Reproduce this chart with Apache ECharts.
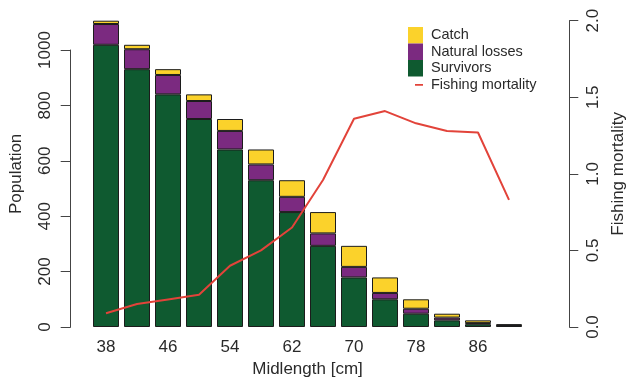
<!DOCTYPE html>
<html>
<head>
<meta charset="utf-8">
<script src="https://cdn.jsdelivr.net/npm/echarts@6/dist/echarts.min.js"></script>
<style>html,body{margin:0;padding:0;background:#fff}#c{width:626px;height:379px}</style>
</head>
<body>
<div id="c"></div>
<script>
var categories = ['38','42','46','50','54','58','62','66','70','74','78','82','86','90'];
var survivors = [1019, 931, 840, 751, 641, 530, 415, 293, 179, 100, 48, 24, 10, 4];
var naturalLosses = [75, 72, 70, 65, 67, 57, 55, 45, 38, 23, 18, 10, 4, 2];
var catchValues = [12, 16, 21, 24, 43, 54, 60, 77, 76, 56, 34, 14, 10, 4];
var fishingMortality = [0.09, 0.15, 0.18, 0.21, 0.40, 0.50, 0.65, 0.96, 1.36, 1.41, 1.33, 1.28, 1.27, 0.83];
var populationTicks = [0, 200, 400, 600, 800, 1000];
var mortalityTicks = [0.0, 0.5, 1.0, 1.5, 2.0];

var FONT = "'Liberation Sans', Arial, sans-serif";
var TXT = '#2a2a2a';
var AX = '#444';
var popMax = survivors[0] + naturalLosses[0] + catchValues[0];

var chart = echarts.init(document.getElementById('c'));
var barBorder = {borderColor: '#1c1c1c', borderWidth: 1};
var lineIcon = 'path://M0,0 L0.01,0 L0.01,0.01 Z M7,7.5 L15,7.5 L15,9.2 L7,9.2 Z M0,16.5 L0.01,16.5 L0.01,16.49 Z';
chart.setOption({
  animation: false,
  textStyle: {fontFamily: FONT},
  grid: [
    {left: 90.5, right: 101.5, top: 20.7, bottom: 52, outerBoundsMode: 'none', containLabel: false},
    {left: 90.5, right: 101.5, top: 50, bottom: 52, outerBoundsMode: 'none', containLabel: false}
  ],
  legend: {
    orient: 'vertical',
    left: 408, top: 27,
    padding: 0,
    itemWidth: 15, itemHeight: 16.5, itemGap: 0,
    itemStyle: {borderWidth: 0},
    textStyle: {fontSize: 14.5, color: TXT, fontFamily: FONT, padding: [0, 0, 0, 3]},
    data: [
      {name: 'Catch', icon: 'rect'},
      {name: 'Natural losses', icon: 'rect'},
      {name: 'Survivors', icon: 'rect'},
      {name: 'Fishing mortality', icon: lineIcon}
    ]
  },
  xAxis: [
    {
      type: 'category', gridIndex: 0, data: categories,
      axisLine: {show: false}, axisTick: {show: false},
      axisLabel: {interval: 1, fontSize: 17, color: TXT, margin: 12, fontFamily: FONT},
      name: 'Midlength [cm]', nameLocation: 'middle', nameGap: 33,
      nameTextStyle: {fontSize: 17, color: TXT, fontFamily: FONT}
    },
    {type: 'category', gridIndex: 1, data: categories, show: false}
  ],
  yAxis: [
    {
      type: 'value', gridIndex: 0, min: 0, max: popMax, position: 'left',
      axisLine: {show: false}, axisTick: {show: false}, axisLabel: {show: false}, splitLine: {show: false},
      name: 'Population', nameLocation: 'middle', nameGap: 66,
      nameTextStyle: {fontSize: 17, color: TXT, fontFamily: FONT}
    },
    {
      type: 'value', gridIndex: 0, min: mortalityTicks[0], max: mortalityTicks[mortalityTicks.length - 1], interval: 0.5,
      position: 'right', offset: 44.8,
      axisLine: {show: true, lineStyle: {color: AX, width: 1}},
      axisTick: {show: true, length: 9, lineStyle: {color: AX}},
      axisLabel: {rotate: 90, fontSize: 17, color: TXT, margin: 16, fontFamily: FONT,
        formatter: function (v) { return v.toFixed(1); }},
      splitLine: {show: false},
      name: 'Fishing mortality', nameLocation: 'middle', nameGap: 35,
      nameTextStyle: {fontSize: 17, color: TXT, fontFamily: FONT}
    },
    {
      type: 'value', gridIndex: 1, min: populationTicks[0], max: populationTicks[populationTicks.length - 1], interval: 200,
      position: 'left', offset: 19.8,
      axisLine: {show: true, lineStyle: {color: AX, width: 1}},
      axisTick: {show: true, length: 10, lineStyle: {color: AX}},
      axisLabel: {rotate: 90, fontSize: 17, color: TXT, margin: 17, fontFamily: FONT,
        formatter: function (v) { return String(v); }},
      splitLine: {show: false}
    }
  ],
  series: [
    {name: 'Survivors', type: 'bar', stack: 'pop', xAxisIndex: 0, yAxisIndex: 0, barWidth: 26, data: survivors,
      itemStyle: Object.assign({color: '#0f5a30'}, barBorder)},
    {name: 'Natural losses', type: 'bar', stack: 'pop', xAxisIndex: 0, yAxisIndex: 0, barWidth: 26, data: naturalLosses,
      itemStyle: Object.assign({color: '#7b2a80'}, barBorder)},
    {name: 'Catch', type: 'bar', stack: 'pop', xAxisIndex: 0, yAxisIndex: 0, barWidth: 26, data: catchValues,
      itemStyle: Object.assign({color: '#fbd22b'}, barBorder)},
    {name: 'Fishing mortality', type: 'line', xAxisIndex: 0, yAxisIndex: 1, data: fishingMortality,
      symbol: 'none', z: 5, lineStyle: {color: '#e2433a', width: 2}, itemStyle: {color: '#e2433a'}}
  ]
});
</script>
</body>
</html>
